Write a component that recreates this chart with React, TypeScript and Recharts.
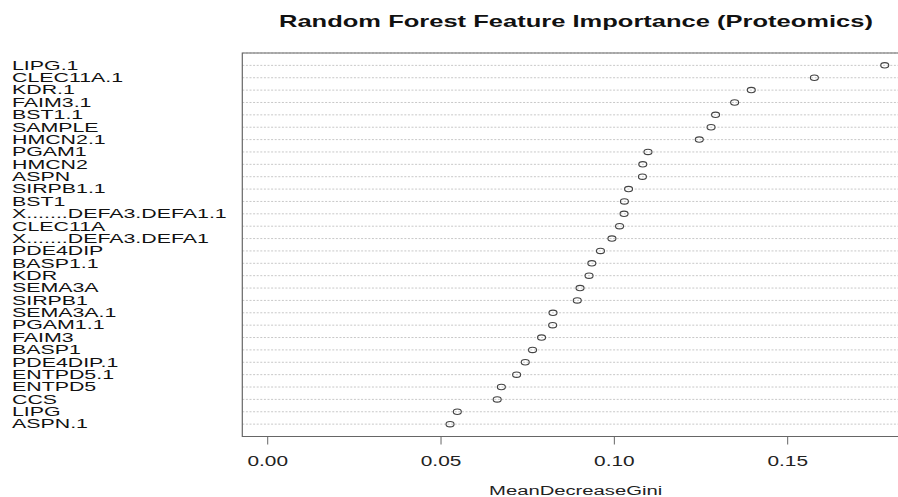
import React from 'react';
import {
  ScatterChart,
  Scatter,
  XAxis,
  YAxis,
  CartesianGrid,
  ReferenceArea,
} from 'recharts';

// Features in plotted order (top row first) and their MeanDecreaseGini
const features = [
  'LIPG.1',
  'CLEC11A.1',
  'KDR.1',
  'FAIM3.1',
  'BST1.1',
  'SAMPLE',
  'HMCN2.1',
  'PGAM1',
  'HMCN2',
  'ASPN',
  'SIRPB1.1',
  'BST1',
  'X.......DEFA3.DEFA1.1',
  'CLEC11A',
  'X.......DEFA3.DEFA1',
  'PDE4DIP',
  'BASP1.1',
  'KDR',
  'SEMA3A',
  'SIRPB1',
  'SEMA3A.1',
  'PGAM1.1',
  'FAIM3',
  'BASP1',
  'PDE4DIP.1',
  'ENTPD5.1',
  'ENTPD5',
  'CCS',
  'LIPG',
  'ASPN.1',
];

const importance = [
  0.178, 0.1577, 0.1395, 0.1347, 0.1292, 0.1279, 0.1245, 0.1097, 0.1082, 0.1081,
  0.1041, 0.1029, 0.1028, 0.1015, 0.0993, 0.096, 0.0935, 0.0927, 0.0901, 0.0893,
  0.0823, 0.0822, 0.079, 0.0764, 0.0743, 0.0718, 0.0674, 0.0662, 0.0547, 0.0526,
];

const xTicks = [0, 0.05, 0.1, 0.15];
const rowTicks = features.map((_, i) => i + 1);

const X_MIN = -0.00733;
const X_MAX = 0.185;
const FONT = '"Liberation Sans", Arial, Helvetica, sans-serif';

const data = features.map((name, i) => ({
  name,
  value: importance[i],
  row: features.length - i,
}));

const labelFor = (row: number) => features[features.length - row] ?? '';

function FeatureTick(props: any) {
  const { y, payload } = props;
  return (
    <g transform={`translate(12, ${y}) scale(1.78, 1)`}>
      <text x={0} y={0} dy="0.36em" textAnchor="start" fontSize={12} fontFamily={FONT} fill="#111">
        {labelFor(payload.value)}
      </text>
    </g>
  );
}

function ValueTick(props: any) {
  const { x, y, payload } = props;
  return (
    <g transform={`translate(${x}, ${y + 21.5}) scale(1.49, 1)`}>
      <text x={0} y={0} textAnchor="middle" fontSize={14} fontFamily={FONT} fill="#222">
        {Number(payload.value).toFixed(2)}
      </text>
    </g>
  );
}

function OpenDot(props: any) {
  const { cx, cy } = props;
  if (cx == null || cy == null) return null;
  return <ellipse cx={cx} cy={cy} rx={4} ry={2.7} fill="none" stroke="#444" strokeWidth={1.1} />;
}

export default function App() {
  return (
    <div
      style={{
        position: 'absolute',
        left: 0,
        top: 0,
        width: 898,
        height: 497,
        overflow: 'hidden',
        background: '#fff',
      }}
    >
      <ScatterChart
        width={920}
        height={497}
        margin={{ top: 53, right: 11, bottom: 0, left: 0 }}
      >
        <CartesianGrid
          vertical={false}
          horizontal
          stroke="#c8c8c8"
          strokeDasharray="2 1.6"
        />
        <XAxis
          type="number"
          dataKey="value"
          domain={[X_MIN, X_MAX]}
          ticks={xTicks}
          allowDataOverflow
          height={60.5}
          axisLine={false}
          tickLine={{ stroke: '#666' }}
          tickSize={8}
          tickMargin={0}
          tick={<ValueTick />}
        />
        <YAxis
          type="number"
          dataKey="row"
          domain={[0, features.length + 1]}
          ticks={rowTicks}
          interval={0}
          allowDataOverflow
          width={242.3}
          axisLine={false}
          tickLine={false}
          tick={<FeatureTick />}
        />
        <ReferenceArea
          x1={X_MIN}
          x2={X_MAX}
          y1={0}
          y2={features.length + 1}
          fill="none"
          stroke="#666"
          strokeWidth={1.2}
          ifOverflow="visible"
        />
        <Scatter data={data} shape={<OpenDot />} isAnimationActive={false} />
      </ScatterChart>
      <svg
        width={898}
        height={497}
        style={{ position: 'absolute', left: 0, top: 0, pointerEvents: 'none' }}
      >
        <g transform="translate(576, 27.3) scale(1.615, 1)">
          <text x={0} y={0} textAnchor="middle" fontSize={15.8} fontWeight="bold" fontFamily={FONT} fill="#111">
            Random Forest Feature Importance (Proteomics)
          </text>
        </g>
        <g transform="translate(575.6, 494.5) scale(1.5, 1)">
          <text x={0} y={0} textAnchor="middle" fontSize={13.5} fontFamily={FONT} fill="#222">
            MeanDecreaseGini
          </text>
        </g>
      </svg>
    </div>
  );
}
